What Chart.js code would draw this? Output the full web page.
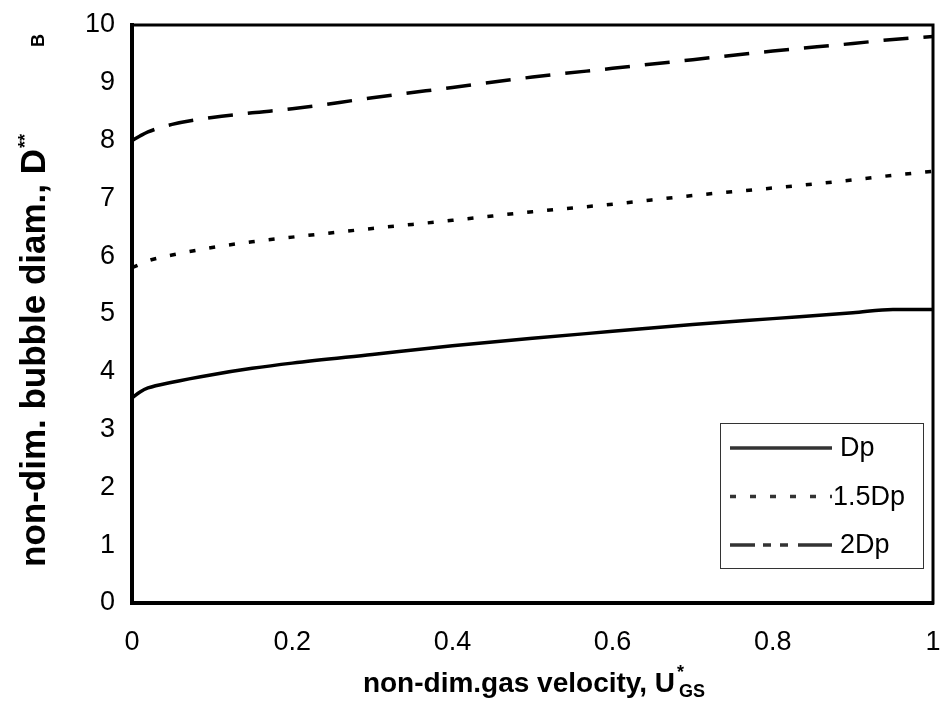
<!DOCTYPE html>
<html>
<head>
<meta charset="utf-8">
<script src="https://cdn.jsdelivr.net/npm/chart.js@4"></script>
<style>
  html, body { margin: 0; padding: 0; background: #fff; }
  #wrap { width: 943px; height: 707px; }
</style>
</head>
<body>
<div id="wrap"><canvas id="chart" width="943" height="707"></canvas></div>
<script>
// --- datos ---
const velocity = [0, 0.01, 0.02, 0.05, 0.1, 0.15, 0.2, 0.3, 0.4, 0.5, 0.6, 0.7, 0.8, 0.9, 0.95, 1];
const diamDp = [3.55, 3.65, 3.72, 3.82, 3.95, 4.06, 4.15, 4.3, 4.45, 4.58, 4.7, 4.82, 4.92, 5.02, 5.08, 5.08];
const diam15Dp = [5.8, 5.86, 5.92, 6.02, 6.15, 6.25, 6.33, 6.48, 6.62, 6.77, 6.9, 7.05, 7.18, 7.32, 7.4, 7.47];
const diam2Dp = [8.0, 8.08, 8.15, 8.28, 8.4, 8.48, 8.55, 8.74, 8.92, 9.1, 9.25, 9.4, 9.55, 9.68, 9.75, 9.8];
const seriesLabels = ['Dp', '1.5Dp', '2Dp'];
const xTicks = [0, 0.2, 0.4, 0.6, 0.8, 1];
const yTicks = [0, 1, 2, 3, 4, 5, 6, 7, 8, 9, 10];

const FONT = '"Liberation Sans", Arial, sans-serif';
const toPoints = ys => velocity.map((x, i) => ({ x, y: ys[i] }));

// estilos de linea (grafico / leyenda)
const styles = [
  { dash: [], legendDash: [] },
  { dash: [6, 14], legendDash: [6, 14] },
  { dash: [25, 15], legendDash: [25, 8, 8, 9, 8, 10, 34] }
];

// leyenda y titulos dibujados a mano (sub/superindices)
const customDraw = {
  id: 'customDraw',
  afterDraw(chart) {
    const ctx = chart.ctx;
    const area = chart.chartArea;

    // marco del area
    ctx.save();
    ctx.strokeStyle = '#000';
    ctx.lineWidth = 3;
    ctx.strokeRect(area.left, area.top, area.right - area.left, area.bottom - area.top);
    ctx.restore();

    // leyenda
    const bx = 720, by = 423, bw = 203, bh = 145;
    ctx.save();
    ctx.fillStyle = '#fff';
    ctx.fillRect(bx, by, bw, bh);
    ctx.strokeStyle = '#333';
    ctx.lineWidth = 1;
    ctx.strokeRect(bx + 0.5, by + 0.5, bw, bh);
    ctx.font = '27px ' + FONT;
    ctx.textBaseline = 'middle';
    ctx.fillStyle = '#000';
    seriesLabels.forEach((lab, i) => {
      const yy = by + 25 + i * 48.5;
      ctx.beginPath();
      ctx.lineWidth = 3.5;
      ctx.setLineDash(styles[i].legendDash);
      ctx.moveTo(bx + 10, yy);
      ctx.lineTo(bx + 112, yy);
      ctx.stroke();
      ctx.setLineDash([]);
      ctx.fillText(lab, bx + (i === 1 ? 113 : 120), yy + 1);
    });
    ctx.restore();

    // titulo eje X
    ctx.save();
    ctx.fillStyle = '#000';
    ctx.textBaseline = 'alphabetic';
    const main = 'non-dim.gas velocity, U';
    ctx.font = 'bold 18px ' + FONT;
    const wSub = ctx.measureText('GS').width;
    ctx.font = 'bold 28px ' + FONT;
    const wMain = ctx.measureText(main).width;
    const x0 = 534 - (wMain + wSub + 4) / 2;
    const yb = 692;
    ctx.fillText(main, x0, yb);
    ctx.font = 'bold 18px ' + FONT;
    ctx.fillText('*', x0 + wMain + 2, yb - 14);
    ctx.fillText('GS', x0 + wMain + 4, yb + 5);
    ctx.restore();

    // titulo eje Y
    ctx.save();
    ctx.translate(45, 567);
    ctx.rotate(-Math.PI / 2);
    ctx.fillStyle = '#000';
    ctx.textBaseline = 'alphabetic';
    ctx.font = 'bold 35px ' + FONT;
    const mainY = 'non-dim. bubble diam., D';
    const wMainY = ctx.measureText(mainY).width;
    ctx.fillText(mainY, 0, 0);
    ctx.font = 'bold 18px ' + FONT;
    ctx.fillText('**', wMainY + 1, -14);
    ctx.fillText('B', 567 - 47, -1);
    ctx.restore();
  }
};

new Chart(document.getElementById('chart'), {
  type: 'line',
  data: {
    datasets: [diamDp, diam15Dp, diam2Dp].map((ys, i) => ({
      label: seriesLabels[i],
      data: toPoints(ys),
      borderColor: '#000',
      borderWidth: 3.5,
      borderDash: styles[i].dash,
      pointRadius: 0,
      cubicInterpolationMode: 'monotone',
      fill: false
    }))
  },
  options: {
    responsive: false,
    animation: false,
    layout: { padding: { top: 25, right: 10, left: 0, bottom: 0 } },
    plugins: { legend: { display: false }, tooltip: { enabled: false } },
    scales: {
      x: {
        type: 'linear',
        min: 0, max: 1,
        afterBuildTicks: s => { s.ticks = xTicks.map(v => ({ value: v })); },
        afterFit: s => { s.height = 104; s.paddingLeft = 0; s.paddingRight = 0; },
        grid: { display: false, drawTicks: true, tickLength: 7, tickColor: '#000' },
        border: { display: true, color: '#000', width: 4 },
        ticks: { color: '#000', font: { family: FONT, size: 27 }, padding: 16, maxRotation: 0, callback: v => String(v) }
      },
      y: {
        min: 0, max: 10,
        afterBuildTicks: s => { s.ticks = yTicks.map(v => ({ value: v })); },
        afterFit: s => { s.width = 132; s.paddingTop = 0; s.paddingBottom = 0; },
        grid: { display: false, drawTicks: true, tickLength: 7, tickColor: '#000' },
        border: { display: true, color: '#000', width: 4 },
        ticks: { color: '#000', font: { family: FONT, size: 27 }, padding: 10 }
      }
    }
  },
  plugins: [customDraw]
});
</script>
</body>
</html>
